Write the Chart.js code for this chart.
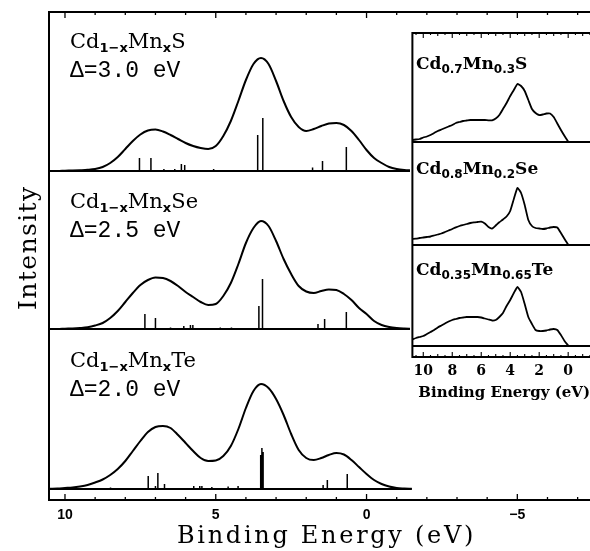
<!DOCTYPE html>
<html>
<head>
<meta charset="utf-8">
<script src="https://cdn.jsdelivr.net/npm/chart.js@4.4.0/dist/chart.umd.min.js"></script>
<style>
  html, body { margin: 0; padding: 0; background: #fff; overflow: hidden; }
  #wrap { position: relative; width: 590px; height: 551px; overflow: hidden; }
  #mainChart { position: absolute; left: 0; top: 0; }
  #insetChart { position: absolute; left: 410px; top: 25px; background: #fff; }
</style>
</head>
<body>
<div id="wrap">
  <canvas id="mainChart" width="590" height="551"></canvas>
  <canvas id="insetChart" width="186" height="385"></canvas>
</div>
<script>
// Calculated Mn 3d spectra of Cd1-xMnxY (broadened curves + multiplet lines)
// and measured photoemission spectra in the inset.

// binding energy grid of the calculated curves (eV)
const calcEnergy = [10.5, 10.25, 10, 9.75, 9.5, 9.25, 9, 8.75, 8.5, 8.25, 8, 7.75, 7.5, 7.25, 7, 6.75,
  6.5, 6.25, 6, 5.75, 5.5, 5.25, 5, 4.75, 4.5, 4.25, 4, 3.75, 3.5, 3.25, 3, 2.75, 2.5, 2.25, 2, 1.75,
  1.5, 1.25, 1, 0.75, 0.5, 0.25, 0, -0.25, -0.5, -0.75, -1, -1.25, -1.5];

const calcS = [0, 0, 0.3, 0.5, 0.8, 1.2, 2, 4, 8, 14, 22, 30, 36.5, 40.5, 41.5, 39.5, 36, 32, 28, 25,
  23, 22, 25, 35, 50, 70, 91, 107, 113, 107, 90, 70, 54, 44, 40, 42, 45, 47.5, 48, 46, 40, 31, 21, 13,
  8, 4, 2, 1, 0.5];
const calcSe = [0, 0, 0.3, 0.5, 1, 1.8, 3.5, 6, 11, 18, 27, 36, 44, 49, 51.5, 51, 48, 43, 37, 32,
  27, 24, 25, 33, 46, 65, 86, 101, 108, 103, 88, 70, 55, 43, 37.5, 36, 38, 39.5, 39, 35, 29, 21, 15, 8,
  4, 2, 1, 0.5, 0.2];
const calcTe = [0.3, 0.5, 1, 1.5, 2.5, 4, 6.5, 9.5, 14, 20, 28, 38, 48, 57, 62, 63, 61, 54, 46, 38,
  31, 28, 28.5, 33, 43, 60, 81, 98, 105, 101, 90, 74, 55, 39, 31, 29, 31, 34, 36, 34.5, 29, 22, 15, 9,
  5, 2.5, 1, 0.5, 0.2];

// multiplet lines (energy, height)
const linesSEnergy = [7.53, 7.15, 6.72, 6.36, 6.14, 6.03, 5.51, 5.07, 4.68, 3.61, 3.44, 1.94, 1.79, 1.46, 0.67];
const linesSHeight = [13, 13, 2, 2, 7, 6, 1, 2, 1, 36, 53, 1, 3.5, 10, 24];
const linesSeEnergy = [7.35, 7.0, 6.5, 6.06, 5.84, 5.76, 5.34, 4.85, 4.48, 3.57, 3.45, 1.75, 1.61, 1.39, 0.67];
const linesSeHeight = [15, 11, 1.5, 3, 4, 4, 1, 1.5, 1.5, 23, 50, 1, 5, 10, 17];
const linesTeEnergy = [8.49, 7.24, 7.0, 6.92, 6.7, 6.23, 5.73, 5.53, 5.46, 5.13, 4.9, 4.59, 4.26,
  3.51, 3.47, 3.43, 1.57, 1.44, 1.3, 0.64];
const linesTeHeight = [1.5, 13, 3, 16, 5, 1, 3, 3, 3, 2, 1, 2.5, 3, 34, 41, 37, 1, 4, 9, 15];

// measured spectra (inset)
const expEnergy = [10.75, 10.5, 10.25, 10, 9.75, 9.5, 9.25, 9, 8.75, 8.5, 8.25, 8, 7.75, 7.5, 7.25, 7,
  6.75, 6.5, 6.25, 6, 5.75, 5.5, 5.25, 5, 4.75, 4.5, 4.25, 4, 3.75, 3.5, 3.25, 3, 2.75, 2.5, 2.25, 2,
  1.75, 1.5, 1.25, 1, 0.75, 0.5, 0.25, 0];
const expS = [2, 2.5, 3, 4.5, 5.5, 7, 9, 11, 12.5, 14, 15.5, 17, 19, 20, 21, 21.5, 22, 22, 22, 22,
  22, 21.7, 21.7, 23.5, 27, 33, 39, 46, 52, 58, 56, 51, 42, 33, 29, 27, 27.5, 28.5, 28.5, 25, 18.5, 12, 6, 0.5];
const expSe = [6, 6.3, 7, 7.5, 8, 8.5, 9.5, 10.5, 11.5, 13, 14.5, 16, 17.7, 19, 20, 21, 22, 22.7, 23, 23.3,
  21.5, 18, 16.5, 19.5, 22.7, 25.5, 28.5, 34, 46, 57, 52, 40, 25, 19, 17, 16.5, 16, 16.5, 17.5, 18, 17.5, 12, 6, 0.5];
const expTe = [6.5, 8, 9, 10, 12, 14, 16, 18.5, 20.5, 22.5, 24.5, 26, 27, 28, 28.5, 29, 29, 29, 29, 28.5,
  27.5, 26.5, 25.5, 26, 29, 33, 40, 46, 53, 59, 54, 42, 29, 22, 16, 15, 15, 15.5, 16.5, 17, 16, 11, 5, 0.5];

// labels
const mainTickLabels = [10, 5, 0, -5];
const insetTickLabels = [10, 8, 6, 4, 2, 0];
const mainFormulas = [['Cd', '1−x', 'Mn', 'x', 'S'], ['Cd', '1−x', 'Mn', 'x', 'Se'], ['Cd', '1−x', 'Mn', 'x', 'Te']];
const deltaLabels = ['Δ=3.0 eV', 'Δ=2.5 eV', 'Δ=2.0 eV'];
const insetFormulas = [['Cd', '0.7', 'Mn', '0.3', 'S'], ['Cd', '0.8', 'Mn', '0.2', 'Se'], ['Cd', '0.35', 'Mn', '0.65', 'Te']];

// layout: baseline of each stacked panel in y units (top, middle, bottom)
const mainBase = [329, 171, 11];
const insetBase = [215, 112, 11];

function curve(energy, values, base) {
  return energy.map((e, i) => ({ x: e, y: values[i] + base }));
}
function sticks(energy, heights, base) {
  return energy.flatMap((e, i) => [{ x: e, y: base }, { x: e, y: base + heights[i] }, { x: e, y: null }]);
}
function isStep(v, step) {
  const r = v / step;
  return Math.abs(r - Math.round(r)) < 1e-6;
}
function fmt(v) {
  return v < 0 ? '−' + Math.abs(v) : String(v);
}

// formula text made of alternating normal / subscript pieces
function drawText(ctx, t) {
  ctx.save();
  ctx.translate(t.x, t.y);
  if (t.rot) ctx.rotate(t.rot);
  ctx.textAlign = 'left';
  ctx.textBaseline = 'alphabetic';
  ctx.letterSpacing = (t.spacing || 0) + 'px';
  let cx = 0;
  t.parts.forEach(p => {
    ctx.font = p.font;
    ctx.fillText(p.text, cx, p.dy || 0);
    cx += ctx.measureText(p.text).width;
  });
  ctx.restore();
}
function formulaParts(pieces, big, small) {
  return pieces.map((s, i) => ({ text: s, font: i % 2 ? small : big, dy: i % 2 ? 4 : 0 }));
}

// frame, inward ticks, panel rules and text
const decor = {
  id: 'decor',
  afterDraw(chart, args, o) {
    const { ctx, chartArea: a } = chart;
    const x = chart.scales.x, y = chart.scales.y;
    ctx.save();
    ctx.strokeStyle = '#000';
    ctx.lineWidth = o.frameWidth;
    ctx.beginPath();
    ctx.moveTo(chart.width, a.top);
    ctx.lineTo(a.left, a.top);
    ctx.lineTo(a.left, a.bottom);
    ctx.lineTo(chart.width, a.bottom);
    ctx.stroke();

    ctx.lineWidth = o.ruleWidth;
    o.rules.forEach(v => {
      const py = y.getPixelForValue(v);
      ctx.beginPath();
      ctx.moveTo(a.left, py);
      ctx.lineTo(chart.width, py);
      ctx.stroke();
    });

    ctx.lineWidth = o.tickWidth;
    x.ticks.forEach(t => {
      if (!isStep(t.value, o.minorStep)) return;
      const px = x.getPixelForValue(t.value);
      if (px < a.left + 1) return;
      let len = o.minorLen;
      if (isStep(t.value, o.majorStep)) len = o.majorLen;
      else if (o.midStep && isStep(t.value, o.midStep)) len = o.midLen;
      ctx.beginPath();
      ctx.moveTo(px, a.top); ctx.lineTo(px, a.top + len);
      ctx.moveTo(px, a.bottom); ctx.lineTo(px, a.bottom - len);
      ctx.stroke();
    });

    ctx.fillStyle = '#000';
    o.texts.forEach(t => drawText(ctx, t));
    ctx.restore();
  }
};

// ---------- main chart ----------
const mainSets = [];
[[calcS, linesSEnergy, linesSHeight], [calcSe, linesSeEnergy, linesSeHeight], [calcTe, linesTeEnergy, linesTeHeight]]
  .forEach(([vals, le, lh], i) => {
    const base = mainBase[i];
    mainSets.push({ data: curve(calcEnergy, vals, base), borderColor: '#000', borderWidth: 2, cubicInterpolationMode: 'monotone' });
    mainSets.push({ data: sticks(le, lh, base), borderColor: '#000', borderWidth: 1.5 });
    mainSets.push({ data: [{ x: calcEnergy[0], y: base }, { x: calcEnergy[calcEnergy.length - 1], y: base }], borderColor: '#000', borderWidth: 1.8 });
  });

const mainTexts = [];
mainFormulas.forEach((f, i) => {
  const y0 = [48, 208, 367][i];
  mainTexts.push({ x: 70, y: y0, parts: formulaParts(f, '21px "DejaVu Serif"', 'bold 13px "DejaVu Sans"') });
  mainTexts.push({ x: 70, y: y0 + 29, parts: [{ text: deltaLabels[i], font: '23px "Liberation Mono"' }] });
});
mainTexts.push({ x: 36, y: 310, rot: -Math.PI / 2, spacing: 1.4, parts: [{ text: 'Intensity', font: '25px "DejaVu Serif"' }] });
mainTexts.push({ x: 177, y: 543, spacing: 2.7, parts: [{ text: 'Binding Energy (eV)', font: '24px "DejaVu Serif"' }] });

new Chart(document.getElementById('mainChart'), {
  type: 'line',
  data: { datasets: mainSets },
  options: {
    responsive: false,
    animation: false,
    devicePixelRatio: 1,
    events: [],
    layout: { padding: { left: 49, top: 12, right: 0, bottom: 0 } },
    elements: { point: { radius: 0 } },
    plugins: {
      legend: { display: false },
      tooltip: { enabled: false },
      decor: {
        frameWidth: 2, ruleWidth: 1.8, tickWidth: 1.3,
        minorStep: 1, majorStep: 5, minorLen: 3, majorLen: 6,
        rules: [], texts: mainTexts
      }
    },
    scales: {
      x: {
        type: 'linear', reverse: true, min: -7.41, max: 10.53,
        afterFit: s => { s.height = 51; },
        border: { display: false },
        grid: { display: false, drawTicks: false },
        ticks: {
          stepSize: 1, maxTicksLimit: 100, includeBounds: false, autoSkip: false, maxRotation: 0, padding: 7, color: '#000',
          font: { family: '"Liberation Sans"', size: 14, weight: 'bold' },
          callback: v => mainTickLabels.includes(v) ? fmt(v) : ''
        }
      },
      y: { display: false, min: 0, max: 488 }
    }
  },
  plugins: [decor]
});

// ---------- inset ----------
const insetSets = [expS, expSe, expTe].map((vals, i) => ({
  data: curve(expEnergy, vals, insetBase[i]), borderColor: '#000', borderWidth: 1.8, tension: 0.15
}));
const insetTexts = insetFormulas.map((f, i) => ({
  x: 6, y: [44, 149, 250][i], parts: formulaParts(f, 'bold 17px "DejaVu Serif"', 'bold 12px "DejaVu Sans"')
}));

new Chart(document.getElementById('insetChart'), {
  type: 'line',
  data: { datasets: insetSets },
  options: {
    responsive: false,
    animation: false,
    devicePixelRatio: 1,
    events: [],
    layout: { padding: { left: 1, top: 8, right: 0, bottom: 0 } },
    elements: { point: { radius: 0 } },
    plugins: {
      legend: { display: false },
      tooltip: { enabled: false },
      decor: {
        frameWidth: 2, ruleWidth: 1.8, tickWidth: 1.1,
        minorStep: 0.5, midStep: 1, majorStep: 2, minorLen: 2, midLen: 3, majorLen: 5,
        rules: insetBase, texts: insetTexts
      }
    },
    scales: {
      x: {
        type: 'linear', reverse: true, min: -1.92, max: 10.75,
        afterFit: s => { s.height = 53; },
        border: { display: false },
        grid: { display: false, drawTicks: false },
        title: {
          display: true, text: 'Binding Energy (eV)', color: '#000',
          font: { family: '"DejaVu Serif"', size: 15, weight: 'bold', lineHeight: 1 },
          padding: { top: 0, bottom: 9 }
        },
        ticks: {
          stepSize: 0.5, maxTicksLimit: 100, includeBounds: false, autoSkip: false, maxRotation: 0, padding: 6, color: '#000',
          font: { family: '"DejaVu Serif"', size: 14, weight: 'bold' },
          callback: v => insetTickLabels.includes(v) ? fmt(v) : ''
        }
      },
      y: { display: false, min: 0, max: 324 }
    }
  },
  plugins: [decor]
});
</script>
</body>
</html>
